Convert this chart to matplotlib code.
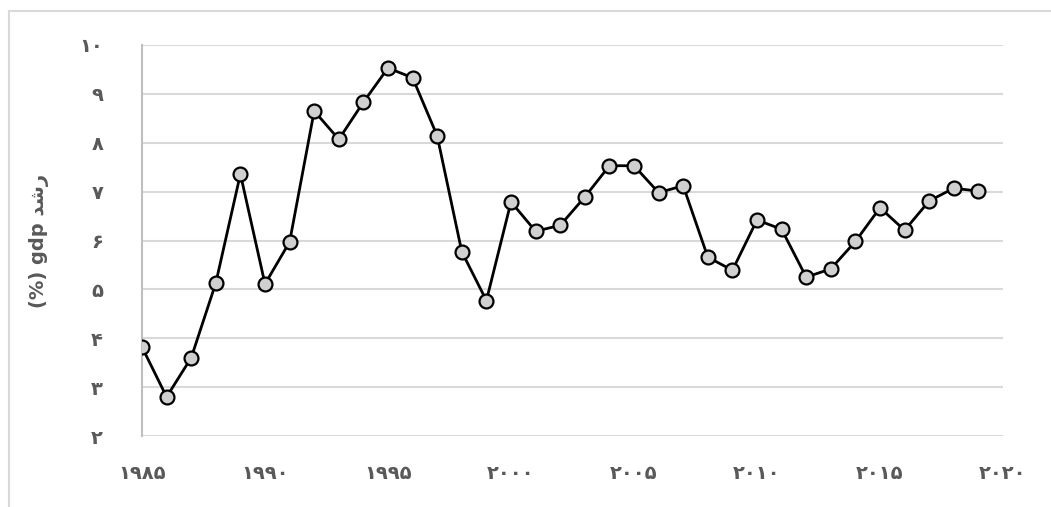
import numpy as np
import matplotlib
matplotlib.use('Agg')
import matplotlib.pyplot as plt
from matplotlib.patches import Rectangle

years = list(range(1985, 2020))
growth = [3.82, 2.80, 3.60, 5.13, 7.36, 5.11, 5.97, 8.65, 8.07, 8.83,
          9.53, 9.33, 8.14, 5.77, 4.77, 6.79, 6.19, 6.31, 6.89, 7.53,
          7.53, 6.98, 7.12, 5.66, 5.39, 6.42, 6.23, 5.25, 5.42, 5.98,
          6.67, 6.21, 6.81, 7.07, 7.01]
x_ticks = [1985, 1990, 1995, 2000, 2005, 2010, 2015, 2020]
y_ticks = [2, 3, 4, 5, 6, 7, 8, 9, 10]
# "رشد gdp (%)" in presentation forms, visual order
y_label = "(%) gdp \uFEAA\uFEB7\uFEAD"

fa = str.maketrans('0123456789', '۰۱۲۳۴۵۶۷۸۹')


def fa_num(v):
    return str(v).translate(fa)


plt.rcParams['font.family'] = ['DejaVu Sans']
fig = plt.figure(figsize=(10.51, 5.07), dpi=100)
ax = fig.add_axes([142 / 1051, 1 - 436 / 507, (1003 - 142) / 1051, (436 - 45) / 507])

fig.patches.append(Rectangle((9 / 1051, -0.1), 1.2, 1 - 11 / 507 + 0.1,
                             transform=fig.transFigure, fill=False,
                             edgecolor='#d9d9d9', linewidth=1.5))

ax.plot(years, growth, color='black', linewidth=2, marker='o', markersize=10,
        markerfacecolor='#d0d0d0', markeredgecolor='black', markeredgewidth=1.6,
        zorder=3)

ax.set_xlim(1985, 2020)
ax.set_ylim(2, 10)
ax.set_xticks(x_ticks)
ax.set_xticklabels([fa_num(t) for t in x_ticks])
ax.set_yticks(y_ticks)
ax.set_yticklabels([fa_num(t) for t in y_ticks])
ax.tick_params(length=0, labelsize=14, labelcolor='#595959')
ax.tick_params(axis='y', pad=28)
ax.tick_params(axis='x', pad=20)
for lab in ax.get_xticklabels() + ax.get_yticklabels():
    lab.set_fontweight('bold')

ax.grid(axis='y', color='#d9d9d9', linewidth=1.5)
ax.set_axisbelow(True)
for s in ['top', 'right', 'bottom']:
    ax.spines[s].set_visible(False)
ax.spines['left'].set_color('#bfbfbf')
ax.spines['left'].set_linewidth(1.5)

ax.set_ylabel(y_label, fontsize=14, fontweight='bold', color='#595959', labelpad=22)

fig.savefig('out.png', dpi=100)
